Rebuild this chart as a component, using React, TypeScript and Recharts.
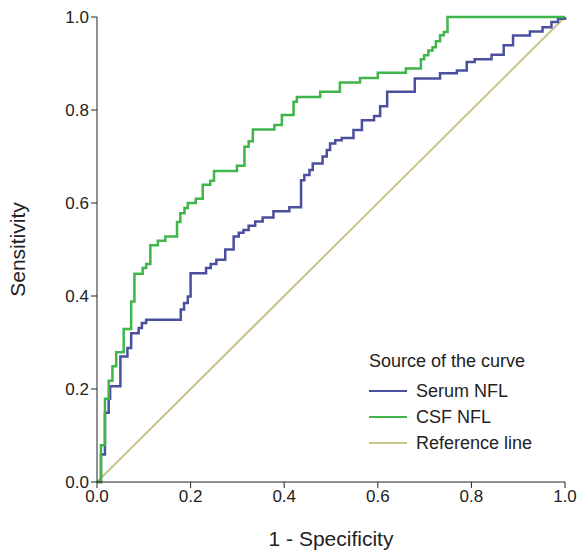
import { LineChart, Line, XAxis, YAxis } from 'recharts';

// ROC curves: each point is the top of a vertical step at that x
const serumX = [0, 0.0085, 0.017, 0.025, 0.028, 0.05, 0.065, 0.073, 0.089, 0.096, 0.105, 0.179, 0.186, 0.194, 0.2, 0.233, 0.243, 0.255, 0.274, 0.292, 0.303, 0.313, 0.324, 0.338, 0.354, 0.377, 0.411, 0.436, 0.443, 0.454, 0.461, 0.482, 0.491, 0.498, 0.509, 0.523, 0.548, 0.566, 0.592, 0.605, 0.62, 0.679, 0.733, 0.769, 0.79, 0.807, 0.843, 0.869, 0.889, 0.925, 0.952, 0.971, 0.985, 1];
const serumY = [0, 0.059, 0.149, 0.179, 0.206, 0.27, 0.288, 0.32, 0.331, 0.342, 0.349, 0.371, 0.385, 0.399, 0.449, 0.46, 0.469, 0.478, 0.5, 0.528, 0.536, 0.542, 0.551, 0.56, 0.569, 0.582, 0.591, 0.649, 0.66, 0.671, 0.685, 0.7, 0.714, 0.728, 0.735, 0.74, 0.757, 0.778, 0.787, 0.808, 0.839, 0.868, 0.879, 0.885, 0.903, 0.909, 0.919, 0.939, 0.96, 0.969, 0.978, 0.989, 0.996, 1];

const csfX = [0, 0.0085, 0.017, 0.025, 0.033, 0.041, 0.057, 0.073, 0.08, 0.0975, 0.105, 0.114, 0.13, 0.146, 0.171, 0.178, 0.187, 0.194, 0.211, 0.226, 0.242, 0.25, 0.299, 0.315, 0.324, 0.333, 0.379, 0.395, 0.42, 0.427, 0.477, 0.519, 0.562, 0.6, 0.66, 0.692, 0.699, 0.708, 0.717, 0.724, 0.733, 0.741, 0.749, 1];
const csfY = [0, 0.079, 0.179, 0.218, 0.249, 0.279, 0.329, 0.388, 0.448, 0.46, 0.469, 0.509, 0.519, 0.528, 0.559, 0.578, 0.589, 0.6, 0.609, 0.639, 0.648, 0.669, 0.68, 0.721, 0.733, 0.758, 0.768, 0.789, 0.818, 0.828, 0.839, 0.859, 0.869, 0.88, 0.889, 0.909, 0.918, 0.928, 0.935, 0.948, 0.961, 0.968, 1, 1];

const refX = [0, 1];
const refY = [0, 1];
const ticks = [0, 0.2, 0.4, 0.6, 0.8, 1];

const SERUM = '#4a509e';
const CSF = '#3fb54a';
const REF = '#c9c48a';
const FONT = '"Liberation Sans", Arial, sans-serif';

const zip = (xs: number[], ys: number[]) => xs.map((x, i) => ({ x, y: ys[i] }));

export default function App() {
  const tick = { fontSize: 17, fill: '#222', fontFamily: FONT };
  return (
    <div style={{ position: 'absolute', left: 0, top: 0, width: 580, height: 550, background: '#fff', fontFamily: FONT }}>
      <LineChart width={580} height={550} margin={{ top: 17, right: 15, left: 0, bottom: 0 }}>
        <XAxis
          type="number"
          dataKey="x"
          domain={[0, 1]}
          ticks={ticks}
          tickFormatter={(v: number) => v.toFixed(1)}
          height={68}
          stroke="#222"
          tick={tick}
          tickSize={6}
          label={{ value: '1 - Specificity', position: 'insideBottom', offset: 4, fontSize: 21, fill: '#222', fontFamily: FONT }}
        />
        <YAxis
          type="number"
          dataKey="y"
          domain={[0, 1]}
          ticks={ticks}
          tickFormatter={(v: number) => v.toFixed(1)}
          width={97}
          stroke="#222"
          tick={tick}
          tickSize={6}
          label={{ value: 'Sensitivity', angle: -90, position: 'insideLeft', offset: 18, fontSize: 21, fill: '#222', fontFamily: FONT, style: { textAnchor: 'middle' } }}
        />
        <Line data={zip(refX, refY)} dataKey="y" stroke={REF} strokeWidth={2} dot={false} isAnimationActive={false} />
        <Line data={zip(serumX, serumY)} dataKey="y" type="stepAfter" stroke={SERUM} strokeWidth={2.5} dot={false} isAnimationActive={false} />
        <Line data={zip(csfX, csfY)} dataKey="y" type="stepAfter" stroke={CSF} strokeWidth={2.5} dot={false} isAnimationActive={false} />
      </LineChart>
      <div style={{ position: 'absolute', left: 369, top: 351, fontSize: 18, color: '#222' }}>
        <div style={{ marginBottom: 6 }}>Source of the curve</div>
        {[
          ['Serum NFL', SERUM],
          ['CSF NFL', CSF],
          ['Reference line', REF],
        ].map(([name, c]) => (
          <div key={name} style={{ display: 'flex', alignItems: 'center', height: 26 }}>
            <span style={{ display: 'inline-block', width: 38, height: 2.5, background: c, marginRight: 9 }} />
            {name}
          </div>
        ))}
      </div>
    </div>
  );
}
